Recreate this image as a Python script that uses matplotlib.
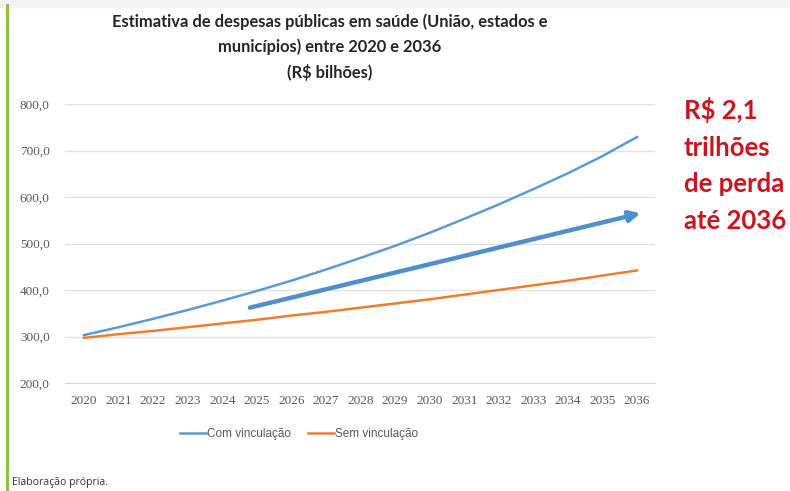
import matplotlib.pyplot as plt
from matplotlib.lines import Line2D
from matplotlib.patches import Rectangle

years = list(range(2020, 2037))
com_vinculacao = [303, 320, 338, 357, 377, 398, 420, 444, 469, 495, 523, 553, 584, 617, 651, 688, 729]
sem_vinculacao = [297, 305, 312, 320, 328, 336, 345, 353, 362, 371, 380, 390, 400, 410, 420, 431, 442]
y_ticks = [200, 300, 400, 500, 600, 700, 800]
arrow_start = (2024.8, 362)
arrow_end = (2036.1, 565)

title = "Estimativa de despesas públicas em saúde (União, estados e\nmunicípios) entre 2020 e 2036\n(R$ bilhões)"
note = "R$ 2,1\ntrilhões\nde perda\naté 2036"

BLUE = "#5b9bd5"
ORANGE = "#ed7d31"
GRAY = "#595959"

fig = plt.figure(figsize=(7.9, 4.91), dpi=100)
ax = fig.add_axes([65 / 790, 1 - 383 / 491, 590 / 790, 279 / 491])

ax.plot(years, com_vinculacao, color=BLUE, lw=1.8, label="Com vinculação")
ax.plot(years, sem_vinculacao, color=ORANGE, lw=1.8, label="Sem vinculação")

ax.annotate("", xy=arrow_end, xytext=arrow_start,
            arrowprops=dict(arrowstyle="-|>", lw=3.2, color="#4f8fcc", mutation_scale=16,
                            shrinkA=0, shrinkB=0))

ax.set_xlim(2019.45, 2036.52)
ax.set_ylim(200, 800)
ax.set_xticks(years)
ax.set_yticks(y_ticks)
ax.set_yticklabels([f"{v:.1f}".replace(".", ",") for v in y_ticks])
ax.grid(axis="y", color="#e3e3e3", lw=1)
ax.set_axisbelow(True)
for s in ["top", "right", "left"]:
    ax.spines[s].set_visible(False)
ax.spines["bottom"].set_color("#d9d9d9")
ax.tick_params(length=0, colors=GRAY, labelsize=9.5)
ax.tick_params(axis="x", pad=9)
ax.tick_params(axis="y", pad=11)
for lab in ax.get_xticklabels() + ax.get_yticklabels():
    lab.set_family(["Liberation Serif", "DejaVu Serif"])

fig.text(330 / 790, 1 - 47 / 491, title, ha="center", va="center", fontsize=11.9,
         fontweight="bold", family=["Lato", "DejaVu Sans"], color="#262626", linespacing=1.65)

fig.text(684 / 790, 1 - 165 / 491, note, ha="left", va="center", fontsize=18.5,
         fontweight="bold", family=["Lato", "DejaVu Sans"], color="#c8161d", linespacing=1.62)

leg = fig.legend(loc="center", bbox_to_anchor=(299 / 790, 1 - 434 / 491), ncol=2, frameon=False,
                 handlelength=2.2, handletextpad=0.1, columnspacing=1.4,
                 prop={"family": ["Liberation Sans Narrow", "Liberation Sans", "DejaVu Sans"],
                       "size": 8.5})
for t in leg.get_texts():
    t.set_color(GRAY)

fig.text(12 / 790, 1 - 482 / 491, "Elaboração própria.", ha="left", va="center", fontsize=7.5,
         family=["Open Sans", "DejaVu Sans"], color="#333333")

fig.patches.append(Rectangle((0, 1 - 7 / 491), 1, 7 / 491, transform=fig.transFigure,
                             color="#f3f3f3", zorder=0))
fig.lines.append(Line2D([7 / 790, 7 / 790], [0, 1 - 5 / 491], transform=fig.transFigure,
                        color="#8cc63f", lw=2.2))

fig.savefig("out.png", dpi=100)
